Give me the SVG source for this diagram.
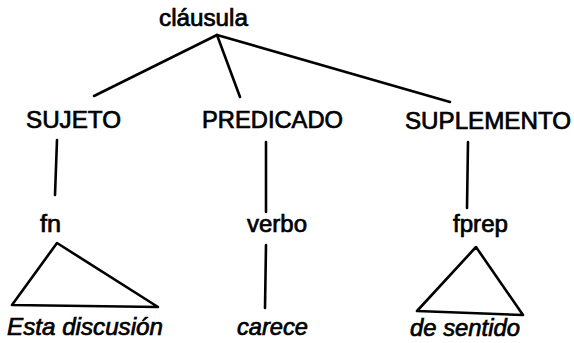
<svg xmlns="http://www.w3.org/2000/svg" width="574" height="343" viewBox="0 0 574 343">
<style>
text{font-family:"Liberation Sans",Arial,sans-serif;font-size:23.5px;fill:#000;stroke:#000;stroke-width:0.7}
.it{font-style:italic}
.ln{stroke:#000;stroke-width:2.6;fill:none;stroke-linecap:round;stroke-linejoin:round}
</style>
<rect width="574" height="343" fill="#fff"/>
<g id="connectors">
<line class="ln" x1="217" y1="35" x2="94" y2="96"/>
<line class="ln" x1="217" y1="35" x2="240" y2="97"/>
<line class="ln" x1="217" y1="35" x2="450" y2="102"/>
<line class="ln" x1="57" y1="140" x2="55" y2="195"/>
<line class="ln" x1="266" y1="142" x2="266" y2="212"/>
<line class="ln" x1="468" y1="142" x2="467" y2="208"/>
<polygon class="ln" points="57,243 12,305 158,307"/>
<line class="ln" x1="266" y1="245" x2="265" y2="308"/>
<polygon class="ln" points="476,247 417,311 523,315"/>
</g>
<g id="clausula"><text x="159" y="26" textLength="89" lengthAdjust="spacingAndGlyphs">cláusula</text></g>
<g id="sujeto"><text x="26" y="128" textLength="95" lengthAdjust="spacingAndGlyphs">SUJETO</text></g>
<g id="predicado"><text x="202" y="128" textLength="141" lengthAdjust="spacingAndGlyphs">PREDICADO</text></g>
<g id="suplemento"><text x="405" y="129" textLength="166" lengthAdjust="spacingAndGlyphs">SUPLEMENTO</text></g>
<g id="fn"><text x="40" y="232" textLength="21" lengthAdjust="spacingAndGlyphs">fn</text></g>
<g id="verbo"><text x="247" y="232" textLength="60" lengthAdjust="spacingAndGlyphs">verbo</text></g>
<g id="fprep"><text x="453" y="232" textLength="55" lengthAdjust="spacingAndGlyphs">fprep</text></g>
<g id="esta"><text class="it" x="7" y="335" textLength="156" lengthAdjust="spacingAndGlyphs">Esta discusión</text></g>
<g id="carece"><text class="it" x="237" y="335" textLength="71" lengthAdjust="spacingAndGlyphs">carece</text></g>
<g id="sentido"><text class="it" x="410" y="336" textLength="110" lengthAdjust="spacingAndGlyphs">de sentido</text></g>
</svg>
